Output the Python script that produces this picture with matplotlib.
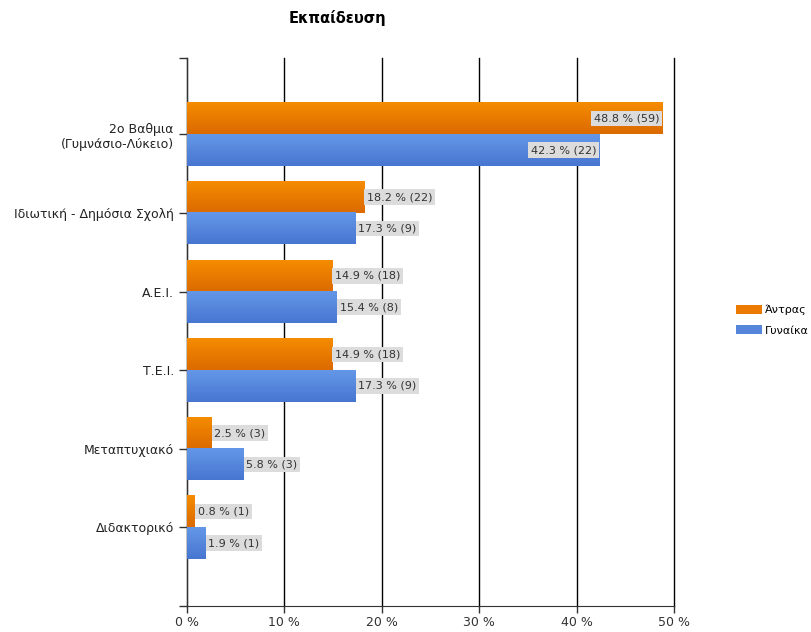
import numpy as np
import matplotlib
matplotlib.use('Agg')
import matplotlib.pyplot as plt
from matplotlib.colors import LinearSegmentedColormap

# education level breakdown, percent (count)
categories = ['2ο Βαθμια\n(Γυμνάσιο-Λύκειο)', 'Ιδιωτική - Δημόσια Σχολή', 'Α.Ε.Ι.',
              'Τ.Ε.Ι.', 'Μεταπτυχιακό', 'Διδακτορικό']
men_pct = [48.8, 18.2, 14.9, 14.9, 2.5, 0.8]
men_cnt = [59, 22, 18, 18, 3, 1]
women_pct = [42.3, 17.3, 15.4, 17.3, 5.8, 1.9]
women_cnt = [22, 9, 8, 9, 3, 1]
series_names = ['Άντρας', 'Γυναίκα']
xticks = [0, 10, 20, 30, 40, 50]

plt.rcParams['font.family'] = ['DejaVu Sans']

fig = plt.figure(figsize=(8.11, 6.32), dpi=100)
ax = fig.add_axes([0.2306, 0.0411, 0.6005, 0.8671])

y = np.arange(len(categories))
h = 0.4
cmaps = [LinearSegmentedColormap.from_list('o', ['#f58c00', '#dc6a00']),
         LinearSegmentedColormap.from_list('b', ['#6597e8', '#4676d0'])]
colors = ['#ec7a00', '#5586dc']

def label(x, yc, text):
    # value label sits outside the bar unless it would run past the axis
    box = dict(boxstyle='square,pad=0.25', fc='#dcdcdc', ec='none')
    if x + 8.5 > 50:
        ax.text(x - 0.3, yc, text, ha='right', va='center', fontsize=8, color='#333333',
                bbox=box, zorder=5)
    else:
        ax.text(x + 0.3, yc, text, ha='left', va='center', fontsize=8, color='#333333',
                bbox=box, zorder=5)

grad = np.linspace(0, 1, 50).reshape(-1, 1)
for k, (pct, cnt, off) in enumerate([(men_pct, men_cnt, -h / 2), (women_pct, women_cnt, h / 2)]):
    bars = ax.barh(y + off, pct, height=h, color=colors[k], label=series_names[k], zorder=3)
    for b, p, c in zip(bars, pct, cnt):
        x0, y0 = b.get_x(), b.get_y()
        ax.imshow(grad, cmap=cmaps[k], aspect='auto', origin='upper',
                  extent=[x0, x0 + b.get_width(), y0 + h, y0], zorder=3.5)
        label(p, y0 + h / 2, f'{p} % ({c})')

ax.set_xlim(0, 50)
ax.set_ylim(6, -0.97)
ax.set_xticks(xticks)
ax.set_xticklabels([f'{t} %' for t in xticks], fontsize=9, color='#333333')
ax.set_yticks(y)
ax.set_yticklabels(categories, fontsize=9, color='#222222')
ax.set_yticks([-0.97, 6], minor=True)
ax.tick_params(axis='y', which='both', length=6, width=1, color='#333333')
ax.tick_params(axis='x', length=5, width=1, color='#333333', pad=2)
for t in xticks:
    ax.axvline(t, color='black', linewidth=1, zorder=0, clip_on=False)
for s in ['top', 'right']:
    ax.spines[s].set_visible(False)
for s in ['left', 'bottom']:
    ax.spines[s].set_color('#333333')

fig.text(337 / 811, 1 - 18 / 632, 'Εκπαίδευση', ha='center', va='center',
         fontsize=10.5, fontweight='bold')

fig.legend(loc='upper left', bbox_to_anchor=(0.902, 0.525), frameon=False, fontsize=8,
           handlelength=2.3, handleheight=0.9, handletextpad=0.3, labelspacing=0.9,
           borderaxespad=0)

fig.savefig('out.png', dpi=100)
